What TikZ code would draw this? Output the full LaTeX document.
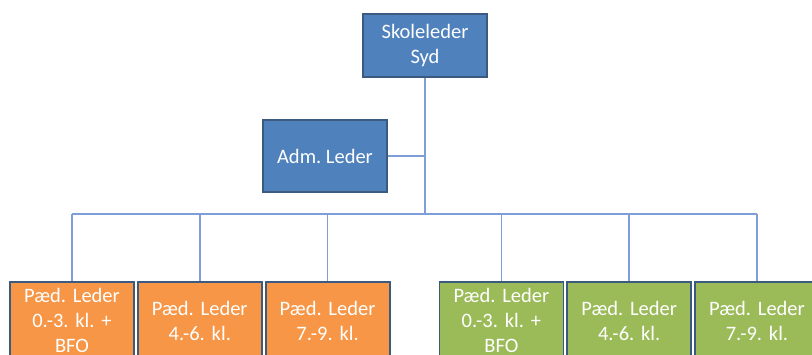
\documentclass[tikz,border=0pt]{standalone}
\usepackage{fontspec}
\setmainfont{Carlito}
\usetikzlibrary{positioning}
\frenchspacing

\definecolor{boxblue}{HTML}{4F81BD}
\definecolor{boxorange}{HTML}{F79646}
\definecolor{boxgreen}{HTML}{9BBB59}
\definecolor{boxedge}{HTML}{3B5A80}
\definecolor{linkblue}{HTML}{7F9DD6}

\begin{document}
\begin{tikzpicture}[x=1pt, y=-1pt, node distance=2pt,
    unit/.style={draw=boxedge, line width=1.8pt, text=white, align=center,
        minimum width=124pt, inner sep=0pt, font=\fontsize{20.5}{25}\selectfont},
    lead/.style={unit, fill=boxblue},
    ped/.style={unit, minimum height=77pt, text width=118pt},
    link/.style={draw=linkblue, line width=1.5pt}]
    \clip (0,0) rectangle (812,354);

    % Nodes {top, adm, p1 .. p6}
    \node [lead, minimum height=63pt]          (top)  at (425,45.5)  {Skoleleder\\Syd};
    \node [lead, minimum height=72pt]          (adm)  at (325,156)   {Adm. Leder};
    \node [ped, fill=boxorange]                (p1)   at (72,320.5)  {Pæd. Leder\\0.-3. kl. +\\BFO};
    \node [ped, fill=boxorange] [right=of p1]  (p2)                  {Pæd. Leder\\4.-6. kl.};
    \node [ped, fill=boxorange] [right=of p2]  (p3)                  {Pæd. Leder\\7.-9. kl.};
    \node [ped, fill=boxgreen]  [right=48pt of p3] (p4)              {Pæd. Leder\\0.-3. kl. +\\BFO};
    \node [ped, fill=boxgreen]  [right=of p4]  (p5)                  {Pæd. Leder\\4.-6. kl.};
    \node [ped, fill=boxgreen]  [right=of p5]  (p6)                  {Pæd. Leder\\7.-9. kl.};
    \coordinate (bus) at (425,214);

    % Paths
    \path [link] (top) -- (bus);
    \path [link] (adm.east) -- (adm.east -| bus);
    \path [link] (p1.north |- bus) -- (p6.north |- bus);
    \foreach \p in {p1,p2,p3,p4,p5,p6}
        \path [link] (\p.north) -- (\p.north |- bus);

\end{tikzpicture}
\end{document}
